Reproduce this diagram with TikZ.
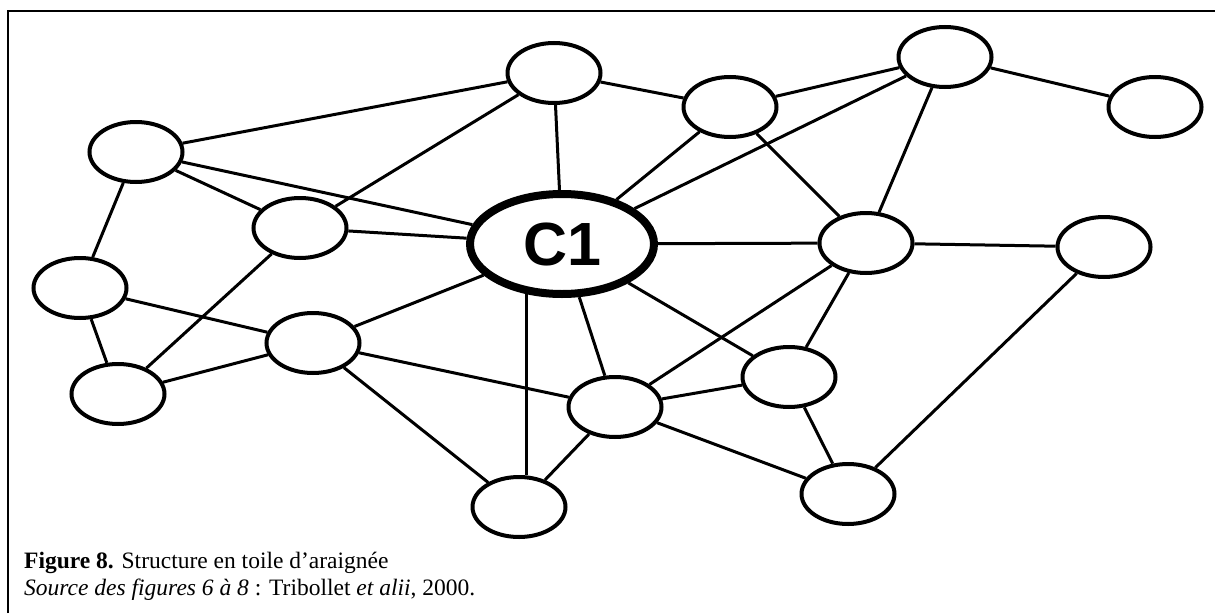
\documentclass[tikz,border=0pt]{standalone}
\usepackage{fontspec}
\setmainfont{Liberation Serif}
\newfontfamily\labelfont{Liberation Sans}
\usetikzlibrary{shapes.geometric}

\begin{document}
\begin{tikzpicture}
[x=1pt,y=-1pt,%
  nodeoval/.style={shape=ellipse,draw,line width=4pt,fill=white,%
    minimum width=93pt,minimum height=60pt,inner sep=0pt},%
  centreoval/.style={shape=ellipse,draw,line width=8pt,fill=white,%
    minimum width=184pt,minimum height=100pt,inner sep=0pt,%
    font=\labelfont\bfseries\fontsize{61}{61}\selectfont},%
  linethin/.style={-,line width=3pt},%
  captiontext/.style={anchor=base west,inner sep=0pt,%
    font=\fontsize{23.5}{27}\selectfont}]
\useasboundingbox (0,0) rectangle (1215,613);
%% frame
\draw[line width=1.5pt] (8,613) -- (8,11) -- (1215,11);
%% nodes or vertices
\node (c1) at (562,244) [centreoval] {C1};
\foreach \nodename/\x/\y in {1/136/152, 2/554/73, 3/730/107, 4/945/57,
  5/1155/107, 6/300/228, 7/80/288, 8/866/243, 9/1104/247, 10/313/343,
  11/118/394, 12/789/377, 13/615/407, 14/519/507, 15/848/494} {
  \node (\nodename) at (\x,\y) [nodeoval] {};
}
%% edges or lines
\path
\foreach \startnode/\endnode in {1/2, 1/6, 1/7, 2/3, 2/6, 3/4, 3/8, 4/5,
  4/8, 6/11, 7/10, 7/11, 10/11, 10/13, 10/14, 8/9, 8/12, 8/13, 9/15,
  12/13, 12/15, 13/14, 13/15}
{
  (\startnode) edge[linethin] (\endnode)
};
\path
\foreach \endnode in {1, 2, 3, 4, 6, 8, 10, 12, 13}
{
  (c1) edge[linethin] (\endnode)
};
\draw[linethin,shorten >=-8pt] (14.77) -- (14.77 |- c1.south);
%% caption
\node (caption1) at (24,568) [captiontext]
  {\textbf{Figure 8.} Structure en toile d’araignée};
\node (caption2) at (24,595) [captiontext]
  {\textit{Source des figures 6 à 8} : Tribollet \textit{et alii}, 2000.};
\end{tikzpicture}
\end{document}
